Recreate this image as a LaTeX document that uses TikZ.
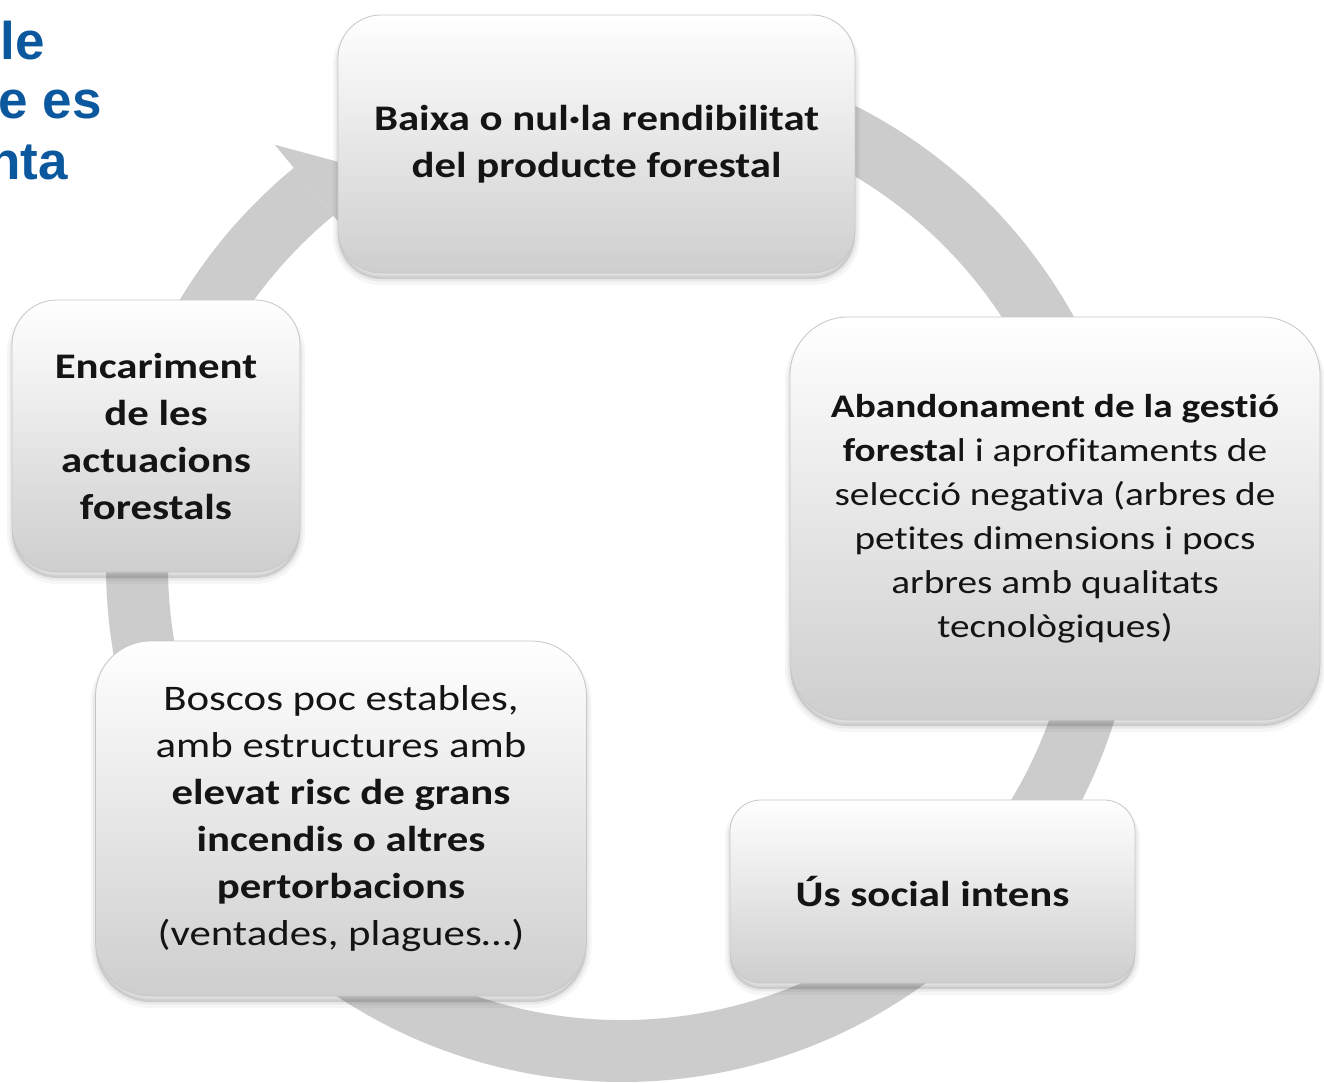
\documentclass[tikz,border=0pt]{standalone}
\usepackage{fontspec}
\setmainfont{Carlito}[FakeStretch=1.19, Ligatures=NoCommon]
\newfontfamily\bluefont{Liberation Sans}
\usetikzlibrary{calc,shadows}
\definecolor{ringgray}{RGB}{204,204,204}
\definecolor{boxbot}{RGB}{206,206,206}
\definecolor{boxmid}{RGB}{240,240,240}
\definecolor{titleblue}{RGB}{12,88,158}
\tikzset{
  softshadow/.style={
    general shadow={draw=black, draw opacity=0.035, line width=10pt, shadow yshift=-7pt},
    general shadow={draw=black, draw opacity=0.05, line width=5pt, fill=black, fill opacity=0.12, shadow yshift=-6pt}
  },
  cbox/.style={rectangle, rounded corners=#1, softshadow,
    top color=white, middle color=boxmid, bottom color=boxbot,
    draw=black!22, line width=0.8pt, align=center, text=black!92, inner sep=0pt},
  title/.style={anchor=base east, inner sep=0pt, text=titleblue,
    font=\bluefont\bfseries\fontsize{53}{60}\selectfont}
}
\begin{document}
\begin{tikzpicture}[x=1pt, y=-1pt]
\clip (0,0) rectangle (1324,1083);
\fill[white] (0,0) rectangle (1324,1083);

% title fragments
\node[title] (t1) at (45,60) {cle};
\node[title] (t2) at (102,119) {e es};
\node[title] (t3) at (68,180) {nta};

% circular arrow
\coordinate (C) at (622,566);
\fill[ringgray] ($(C)+(-129.5:516)$) arc[start angle=-129.5, end angle=-460, radius=516]
  -- ($(C)+(-460:454)$) arc[start angle=-460, end angle=-129.5, radius=454] -- cycle;
\fill[ringgray] ($(C)+(-129.5:546)$) -- ($(C)+(-124.2:485)$) -- ($(C)+(-129.5:424)$) -- cycle;

% boxes
\node[cbox=43, minimum width=517pt, minimum height=258pt,
  font=\bfseries\fontsize{36}{47}\selectfont] (b1) at (596.5,144)
  {Baixa o nul·la rendibilitat\\del producte forestal};

\node[cbox=58, minimum width=530pt, minimum height=403pt,
  font=\fontsize{33}{44}\selectfont] (b2) at (1055,518.5)
  {\textbf{Abandonament de la gestió}\\
   \textbf{foresta}l i aprofitaments de\\
   selecció negativa (arbres de\\
   petites dimensions i pocs\\
   arbres amb qualitats\\
   tecnològiques)};

\node[cbox=31, minimum width=405pt, minimum height=183pt,
  font=\bfseries\fontsize{36}{47}\selectfont] (b3) at (932.5,891.5)
  {Ús social intens};

\node[cbox=55, minimum width=491pt, minimum height=355pt,
  font=\fontsize{36}{47}\selectfont] (b4) at (341,818.5)
  {Boscos poc estables,\\
   amb estructures amb\\
   \textbf{elevat risc de grans}\\
   \textbf{incendis o altres}\\
   \textbf{pertorbacions}\\
   (ventades, plagues…)};

\node[cbox=45, minimum width=288pt, minimum height=272pt,
  font=\bfseries\fontsize{36}{47}\selectfont] (b5) at (156,436)
  {Encariment\\de les\\actuacions\\forestals};
\end{tikzpicture}
\end{document}
